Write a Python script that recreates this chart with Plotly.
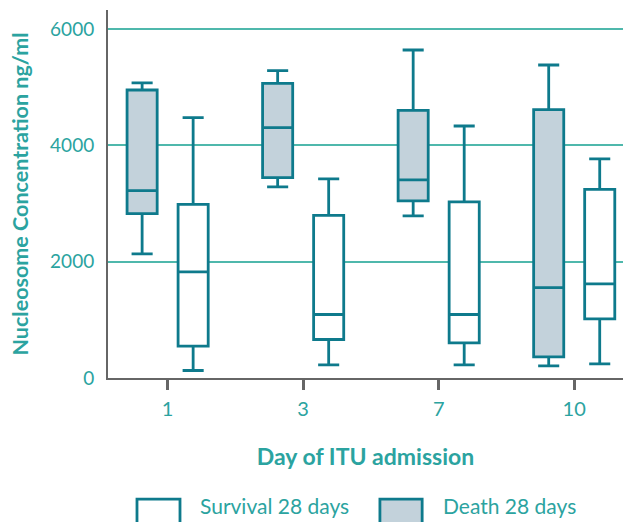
import plotly.graph_objects as go

days = ["1", "3", "7", "10"]

# Death 28 days
death_low = [2135, 3287, 2788, 210]
death_q1 = [2828, 3447, 3046, 364]
death_med = [3223, 4306, 3407, 1556]
death_q3 = [4954, 5068, 4604, 4616]
death_high = [5075, 5286, 5642, 5384]

# Survival 28 days
surv_low = [129, 227, 227, 244]
surv_q1 = [547, 662, 605, 1018]
surv_med = [1826, 1092, 1092, 1619]
surv_q3 = [2988, 2799, 3029, 3246]
surv_high = [4478, 3424, 4335, 3768]

y_ticks = [0, 2000, 4000, 6000]

LINE = "#0E7A8C"
TEXT = "#2BA3A0"
GRID = "#4FB8AC"
AXIS = "#666666"
DEATH_FILL = "#C3D2DB"
FONT = "Lato"

fig = go.Figure()
fig.add_trace(go.Box(
    name="Death 28 days", x=days,
    q1=death_q1, median=death_med, q3=death_q3,
    lowerfence=death_low, upperfence=death_high,
    fillcolor=DEATH_FILL, line=dict(color=LINE, width=2.8),
    whiskerwidth=0.7, boxpoints=False,
))
fig.add_trace(go.Box(
    name="Survival 28 days", x=days,
    q1=surv_q1, median=surv_med, q3=surv_q3,
    lowerfence=surv_low, upperfence=surv_high,
    fillcolor="white", line=dict(color=LINE, width=2.8),
    whiskerwidth=0.7, boxpoints=False,
))

# Legend drawn as keys + labels below the plot
legend_items = [("Survival 28 days", "white", 0.0563, 0.1398, 0.1748),
                ("Death 28 days", DEATH_FILL, 0.528, 0.610, 0.6466)]
for label, fill, kx0, kx1, tx in legend_items:
    fig.add_shape(type="rect", xref="paper", yref="paper",
                  x0=kx0, x1=kx1, y0=-0.40, y1=-0.329,
                  fillcolor=fill, line=dict(color=LINE, width=2.8))
    fig.add_annotation(text=label, xref="paper", yref="paper", x=tx, y=-0.347,
                       xanchor="left", yanchor="middle", showarrow=False,
                       font=dict(size=21, color=TEXT, family=FONT))

fig.update_layout(
    width=623, height=522,
    margin=dict(l=108, r=0, t=10, b=144),
    paper_bgcolor="white", plot_bgcolor="white",
    boxmode="group", boxgap=0.247, boxgroupgap=0.41,
    font=dict(family=FONT, color=TEXT),
    showlegend=False,
)
fig.update_xaxes(
    type="category", range=[-0.44, 3.36], automargin=False,
    showline=True, linecolor=AXIS, linewidth=2,
    ticks="outside", ticklen=10, tickwidth=3, tickcolor=AXIS,
    ticklabelstandoff=2,
    tickfont=dict(size=20, color=TEXT, family=FONT),
    showgrid=False, zeroline=False,
    title=dict(text="<b>Day of ITU admission</b>", font=dict(size=23, color=TEXT, family=FONT), standoff=30),
)
fig.update_yaxes(
    range=[0, 6330], tickvals=y_ticks, automargin=False,
    showline=True, linecolor=AXIS, linewidth=2,
    ticks="", ticklabelstandoff=8,
    tickfont=dict(size=19, color=TEXT, family=FONT),
    showgrid=True, gridcolor=GRID, gridwidth=2, zeroline=False,
    title=dict(text="<b>Nucleosome Concentration ng/ml</b>", font=dict(size=21.5, color=TEXT, family=FONT), standoff=16),
)

fig.write_html("out.html", config={"displayModeBar": False},
               post_script="document.body.style.margin='0';document.body.style.overflow='hidden';")
